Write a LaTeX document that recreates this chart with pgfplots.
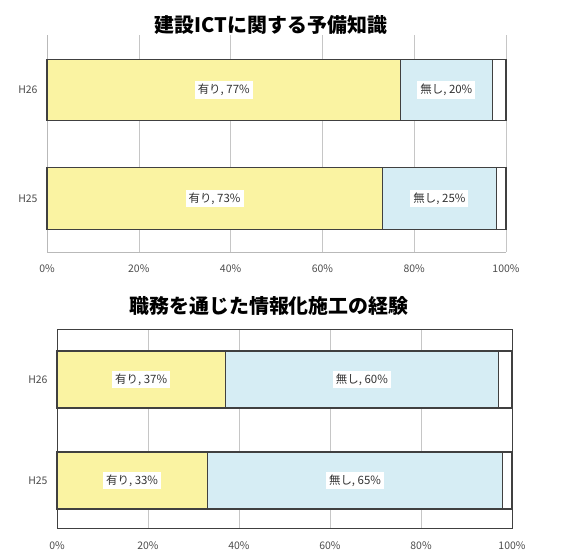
\documentclass[border=0pt]{standalone}
\usepackage{fontspec}
\setmainfont{Noto Sans CJK JP}
\usepackage{pgfplots}
\pgfplotsset{compat=1.18}
\definecolor{ybar}{HTML}{FAF3A2}
\definecolor{bbar}{HTML}{D6EDF4}
\definecolor{edge}{HTML}{404040}
\pgfplotsset{
  base/.style={scale only axis, anchor=south west, xmin=0, xmax=100, clip=false},
  bars/.style={base, xbar stacked, ytick={0,1}, yticklabels={H25,H26},
    xtick={0,20,...,100}, xticklabel={\pgfmathprintnumber{\tick}\%},
    /pgf/number format/assume math mode=true,
    major tick length=0pt,
    xmajorgrids, grid style={gray!45, line width=0.6bp},
    ticklabel style={font=\fontsize{10.5}{11}\selectfont, text=black!70},
    xticklabel style={yshift=-9bp},
    yticklabel style={xshift=-6bp},
    every axis plot/.append style={draw=edge, line width=1.1bp}},
  labs/.style={base, hide axis},
  lbl/.style={draw=none, mark=none, nodes near coords, point meta=explicit symbolic,
    every node near coord/.append style={anchor=center, fill=white, inner sep=3bp,
      text=black!80, font=\fontsize{11.5}{12}\selectfont}}
}
\begin{document}
\begin{tikzpicture}[x=1bp,y=1bp]
\useasboundingbox (0,0) rectangle (577,551);
% ---------- top panel ----------
\begin{axis}[bars, at={(47bp,299bp)}, width=459bp, height=217bp,
  ymin=-0.493, ymax=1.507, bar width=0.57,
  axis x line*=bottom, axis y line*=left, axis line style={-, gray!55, line width=0.8bp}]
\addplot[fill=ybar] coordinates {(73,0) (77,1)};
\addplot[fill=bbar] coordinates {(25,0) (20,1)};
\addplot[fill=white] coordinates {(2,0) (3,1)};
\end{axis}
\begin{axis}[labs, at={(47bp,299bp)}, width=459bp, height=217bp, ymin=-0.493, ymax=1.507]
\addplot[lbl] coordinates {(36.5,0) [有り, 73\%] (38.5,1) [有り, 77\%]};
\addplot[lbl] coordinates {(85.5,0) [無し, 25\%] (87,1) [無し, 20\%]};
\end{axis}
\node[font=\bfseries\fontsize{20}{20}\selectfont] at (271,526) {建設ICTに関する予備知識};
% ---------- bottom panel ----------
\begin{axis}[bars, at={(57bp,22bp)}, width=455bp, height=199bp,
  ymin=-0.48, ymax=1.49, bar width=0.564,
  axis line style={edge, line width=1bp}]
\addplot[fill=ybar] coordinates {(33,0) (37,1)};
\addplot[fill=bbar] coordinates {(65,0) (60,1)};
\addplot[fill=white] coordinates {(2,0) (3,1)};
\end{axis}
\begin{axis}[labs, at={(57bp,22bp)}, width=455bp, height=199bp, ymin=-0.48, ymax=1.49]
\addplot[lbl] coordinates {(16.5,0) [有り, 33\%] (18.5,1) [有り, 37\%]};
\addplot[lbl] coordinates {(65.5,0) [無し, 65\%] (67,1) [無し, 60\%]};
\end{axis}
\node[font=\bfseries\fontsize{20}{20}\selectfont] at (269,245) {職務を通じた情報化施工の経験};
\end{tikzpicture}
\end{document}
